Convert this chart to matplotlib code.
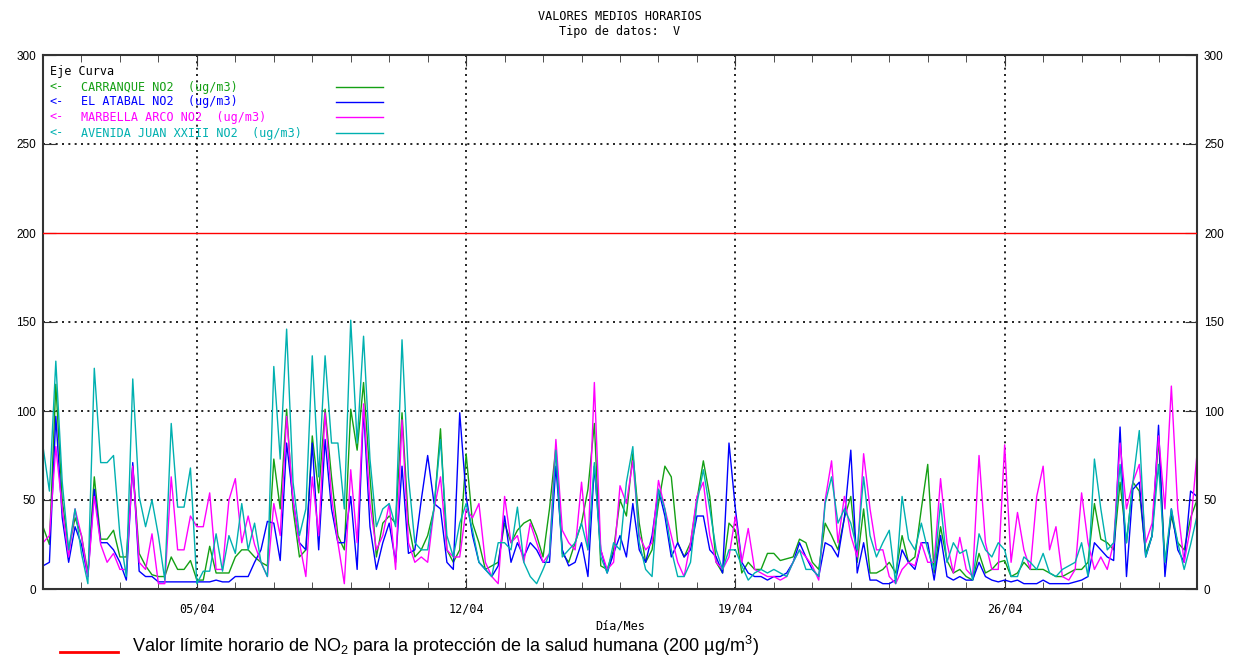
import numpy as np
import matplotlib
matplotlib.use('Agg')
import matplotlib.pyplot as plt
from matplotlib.lines import Line2D
from matplotlib.ticker import MultipleLocator, FixedLocator

plt.rcParams['mathtext.fontset'] = 'custom'
plt.rcParams['mathtext.rm'] = 'Liberation Sans'
plt.rcParams['mathtext.default'] = 'rm'

# hourly NO2 values sampled every 4 hours, 01/04 00h -> 01/05 00h (ug/m3)
carranque = [35, 25, 115, 50, 22, 40, 30, 9, 63, 28, 28, 33, 18, 18, 69, 20, 13, 8,
             7, 7, 18, 11, 11, 16, 5, 5, 24, 9, 9, 9, 18, 22, 22, 18, 15, 13,
             73, 45, 101, 45, 18, 22, 86, 54, 101, 63, 30, 22, 101, 78, 116, 63, 18, 37,
             41, 37, 99, 37, 18, 22, 30, 45, 90, 22, 15, 22, 76, 37, 26, 11, 13, 15,
             37, 26, 33, 37, 39, 30, 18, 45, 80, 20, 15, 26, 37, 56, 93, 13, 11, 22,
             50, 41, 76, 37, 15, 22, 48, 69, 63, 26, 18, 26, 50, 72, 52, 15, 9, 37,
             33, 9, 15, 11, 11, 20, 20, 16, 17, 18, 28, 26, 15, 11, 37, 30, 22, 40,
             52, 15, 45, 9, 9, 11, 15, 9, 30, 15, 18, 45, 70, 9, 35, 16, 9, 11,
             7, 5, 20, 9, 11, 15, 16, 7, 9, 15, 11, 11, 11, 9, 7, 7, 9, 11,
             11, 15, 48, 28, 26, 22, 60, 26, 60, 55, 20, 30, 85, 15, 41, 26, 22, 40, 50]
atabal = [13, 15, 97, 40, 15, 35, 25, 7, 56, 26, 26, 22, 15, 5, 71, 10, 7, 7,
          4, 4, 4, 4, 4, 4, 4, 4, 4, 5, 4, 4, 7, 7, 7, 15, 22, 38,
          37, 16, 82, 50, 26, 22, 82, 22, 84, 45, 26, 26, 52, 11, 101, 35, 11, 26,
          37, 15, 69, 20, 22, 50, 75, 48, 45, 15, 11, 99, 52, 30, 15, 11, 7, 13,
          41, 15, 26, 18, 26, 22, 15, 15, 69, 22, 13, 15, 26, 7, 69, 22, 9, 20,
          30, 18, 48, 22, 15, 30, 56, 41, 18, 26, 18, 22, 41, 41, 22, 18, 9, 82,
          45, 15, 9, 7, 7, 5, 7, 7, 9, 15, 26, 18, 11, 7, 26, 24, 18, 40,
          78, 9, 26, 5, 5, 3, 3, 5, 22, 15, 11, 26, 26, 5, 30, 7, 5, 7,
          5, 5, 15, 7, 5, 4, 5, 4, 5, 3, 3, 3, 5, 3, 3, 3, 3, 4,
          5, 7, 26, 22, 18, 16, 91, 7, 56, 60, 18, 30, 92, 7, 45, 22, 15, 55, 52]
marbella = [26, 30, 80, 45, 18, 45, 30, 7, 52, 25, 15, 20, 11, 11, 69, 15, 11, 31,
            3, 3, 63, 22, 22, 41, 35, 35, 54, 11, 11, 50, 62, 26, 41, 25, 15, 7,
            48, 30, 97, 50, 26, 7, 63, 30, 99, 52, 26, 3, 67, 26, 104, 48, 22, 30,
            48, 11, 95, 26, 15, 18, 15, 45, 63, 22, 18, 18, 45, 40, 48, 15, 7, 3,
            52, 26, 30, 15, 37, 26, 15, 20, 84, 33, 26, 22, 60, 22, 116, 22, 11, 15,
            58, 48, 72, 30, 22, 26, 61, 45, 30, 15, 7, 26, 52, 60, 30, 15, 11, 18,
            41, 15, 34, 11, 9, 7, 7, 5, 7, 15, 22, 18, 13, 5, 50, 72, 26, 52,
            30, 18, 76, 45, 22, 22, 7, 3, 11, 15, 13, 26, 15, 15, 62, 26, 9, 29,
            11, 7, 75, 26, 11, 11, 81, 15, 43, 22, 11, 52, 69, 22, 35, 7, 5, 11,
            54, 26, 11, 18, 11, 26, 82, 45, 60, 70, 26, 37, 86, 45, 114, 45, 15, 35, 76]
juan_xxiii = [80, 55, 128, 60, 22, 45, 20, 3, 124, 71, 71, 75, 30, 7, 118, 52, 35, 50,
              30, 5, 93, 46, 46, 68, 3, 10, 10, 31, 10, 30, 20, 48, 22, 37, 15, 7,
              125, 73, 146, 60, 30, 45, 131, 63, 131, 82, 82, 45, 151, 82, 142, 73, 35, 45,
              48, 35, 140, 63, 26, 22, 22, 46, 84, 30, 18, 37, 48, 33, 15, 11, 7, 26,
              26, 22, 46, 15, 7, 3, 11, 20, 78, 18, 22, 26, 37, 22, 71, 18, 9, 26,
              22, 60, 80, 26, 11, 7, 56, 45, 22, 7, 7, 15, 48, 67, 45, 22, 11, 22,
              22, 13, 5, 9, 11, 9, 11, 9, 7, 15, 22, 11, 11, 7, 48, 63, 37, 45,
              37, 22, 63, 30, 18, 26, 33, 3, 52, 28, 22, 37, 22, 11, 48, 15, 26, 20,
              22, 5, 31, 22, 18, 26, 22, 7, 7, 18, 15, 11, 20, 9, 7, 11, 13, 15,
              26, 7, 73, 45, 22, 26, 70, 26, 60, 89, 18, 30, 70, 15, 45, 26, 11, 25, 41]

series_names = ['CARRANQUE NO2  (ug/m3)', 'EL ATABAL NO2  (ug/m3)',
                'MARBELLA ARCO NO2  (ug/m3)', 'AVENIDA JUAN XXIII NO2  (ug/m3)']
series_colors = ['#14a014', '#0000ff', '#ff00ff', '#00b0b0']
day_labels = ['05/04', '12/04', '19/04', '26/04']
label_days = [4, 11, 18, 25]
limit_value = 200

W, H = 1241, 659
fig = plt.figure(figsize=(W / 100, H / 100), dpi=100)
ax = fig.add_axes([43 / W, 70 / H, 1154 / W, 534 / H])

days = np.arange(len(carranque)) * 4 / 24.0
all_series = [carranque, atabal, marbella, juan_xxiii]
for vals, col in zip(all_series, series_colors):
    ax.plot(days, vals, color=col, linewidth=1.0)

ax.axhline(limit_value, color='#ff0000', linewidth=1.0, zorder=3)

ax.set_xlim(0, 30)
ax.set_ylim(0, 300)

# grid (dotted black)
for y in [50, 100, 150, 250]:
    ax.axhline(y, color='black', linestyle=(0, (1.2, 2.6)), linewidth=1.2, zorder=0)
for d in label_days:
    ax.axvline(d, color='black', linestyle=(0, (1.2, 2.6)), linewidth=1.2, zorder=0)

mono = 'DejaVu Sans Mono'
ax.xaxis.set_major_locator(FixedLocator(label_days))
ax.xaxis.set_minor_locator(MultipleLocator(1))
ax.set_xticklabels(day_labels, fontfamily=mono, fontsize=8.5)
ax.tick_params(axis='x', which='major', direction='in', length=8, top=True, bottom=True, pad=10,
               color='#333333')
ax.tick_params(axis='x', which='minor', direction='in', length=5, top=True, bottom=True,
               color='#333333')
ax.yaxis.set_major_locator(MultipleLocator(50))
ax.tick_params(axis='y', direction='in', length=9, left=True, right=True,
               labelleft=True, labelright=True, labelsize=8.5, pad=5, color='#333333')
for lab in ax.get_yticklabels():
    lab.set_fontfamily('Liberation Sans')

for sp in ax.spines.values():
    sp.set_color('#333333')
    sp.set_linewidth(1.5)

# title and axis label
fig.text(620 / W, 1 - 17 / H, 'VALORES MEDIOS HORARIOS', ha='center', va='center',
         fontfamily=mono, fontsize=8.5)
fig.text(620 / W, 1 - 32 / H, 'Tipo de datos:  V', ha='center', va='center',
         fontfamily=mono, fontsize=8.5)
fig.text(620 / W, 1 - 626 / H, 'Día/Mes', ha='center', va='center',
         fontfamily=mono, fontsize=8.5)

# legend inside the chart
fig.text(50 / W, 1 - 72 / H, 'Eje Curva', ha='left', va='center', fontfamily=mono, fontsize=8.5)
legend_y = [87, 102, 117, 133]
for name, col, ly in zip(series_names, series_colors, legend_y):
    fig.text(50 / W, 1 - ly / H, '<-', ha='left', va='center', color=col,
             fontfamily=mono, fontsize=8.5)
    fig.text(81 / W, 1 - ly / H, name, ha='left', va='center', color=col,
             fontfamily=mono, fontsize=8.5)
    fig.add_artist(Line2D([336 / W, 383 / W], [1 - ly / H, 1 - ly / H], color=col,
                          linewidth=1.0, transform=fig.transFigure))

# limit legend below
fig.add_artist(Line2D([60 / W, 118 / W], [1 - 652 / H, 1 - 652 / H], color='#ff0000',
                      linewidth=2.0, transform=fig.transFigure))
fig.text(132 / W, 1 - 646 / H,
         'Valor límite horario de NO$_2$ para la protección de la salud humana (200 µg/m$^3$)',
         ha='left', va='center', fontfamily='Liberation Sans', fontsize=13)

fig.savefig('out.png', dpi=100)
